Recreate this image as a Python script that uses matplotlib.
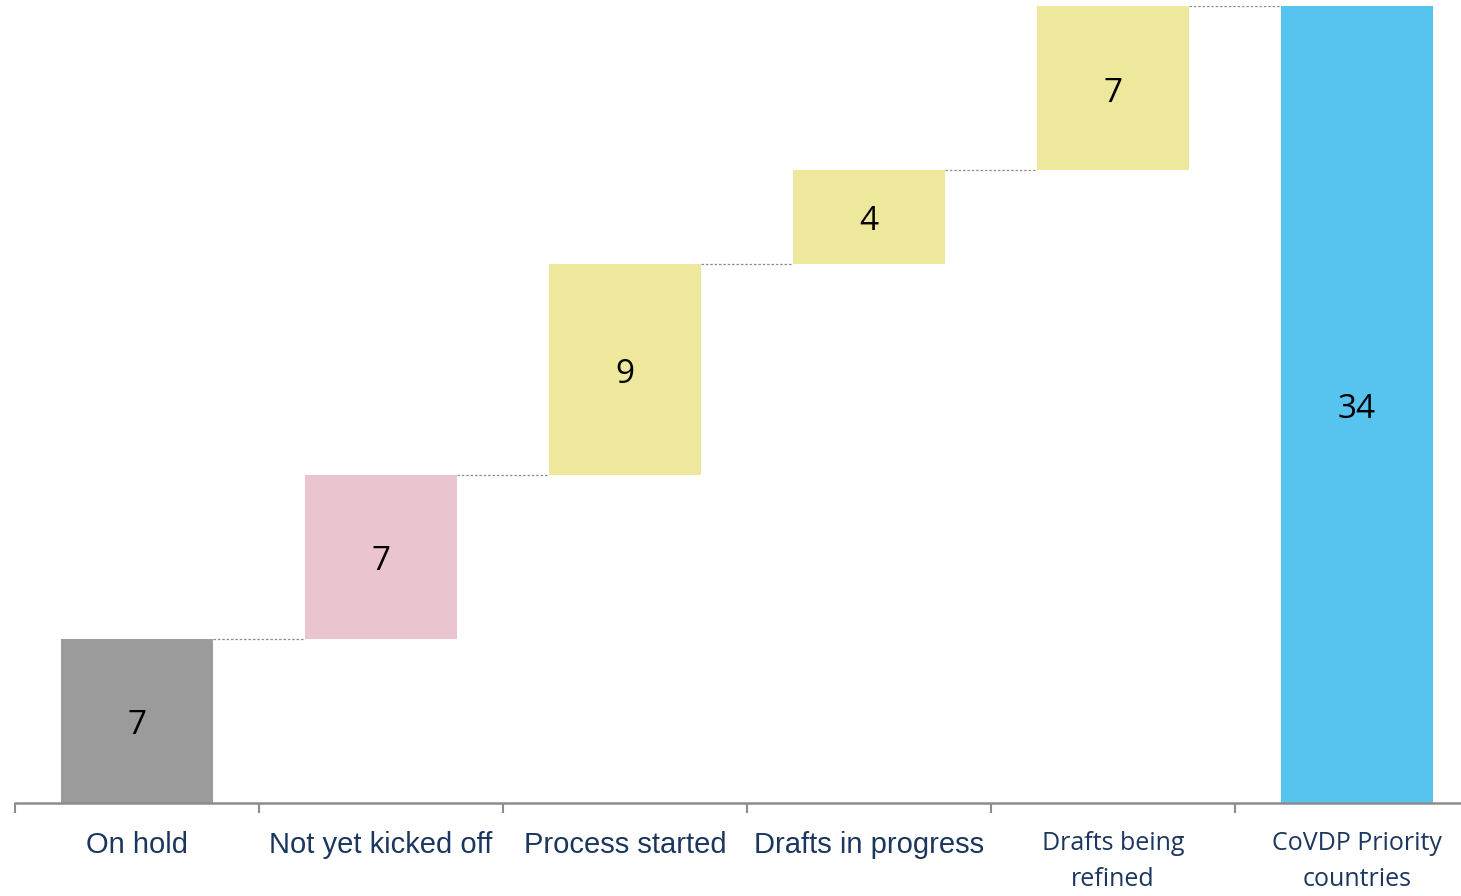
import matplotlib
matplotlib.use("Agg")
import matplotlib.pyplot as plt
import matplotlib.transforms as mtransforms
import numpy as np

categories = ["On hold", "Not yet kicked off", "Process started", "Drafts in progress",
              "Drafts being\nrefined", "CoVDP Priority\ncountries"]
values = [7, 7, 9, 4, 7, 34]
is_total = [False, False, False, False, False, True]
colors = ["#9B9B9B", "#EAC5D0", "#EDE89C", "#EDE89C", "#EDE89C", "#56C4EF"]

W, H = 1461, 896
fig = plt.figure(figsize=(W / 100, H / 100), dpi=100)
ax = fig.add_axes([15 / W, 93 / H, 1464 / W, 797 / H])

x = np.arange(len(categories))
bottoms = []
cum = 0
for v, t in zip(values, is_total):
    if t:
        bottoms.append(0)
    else:
        bottoms.append(cum)
        cum += v
width = 0.627
ax.bar(x, values, bottom=bottoms, width=width, color=colors, zorder=2)

shift = mtransforms.offset_copy(ax.transData, fig=fig, x=0, y=-5, units="dots")
for xi, v, b in zip(x, values, bottoms):
    ax.text(xi, b + v / 2, str(v), ha="center", va="center", fontsize=24,
            color="black", family=["Open Sans", "DejaVu Sans"], transform=shift)

# connectors
for i in range(len(values) - 1):
    top = bottoms[i] + values[i]
    ax.plot([x[i] + width / 2, x[i + 1] - width / 2], [top, top], ls=(0, (2, 1.5)),
            color="#8C8C8C", lw=0.9, zorder=1)

ax.set_xlim(-0.5, len(categories) - 0.5)
ax.set_ylim(0, 34)
for s in ["top", "right", "left"]:
    ax.spines[s].set_visible(False)
ax.spines["bottom"].set_color("#8C8C8C")
ax.spines["bottom"].set_linewidth(1.8)
ax.set_yticks([])
ax.set_xticks(x)
ax.set_xticklabels(categories)
ax.tick_params(axis="x", which="major", length=0, pad=20)
ax.set_xticks(np.arange(len(categories) + 1) - 0.5, minor=True)
ax.tick_params(axis="x", which="minor", length=7, width=1.5, color="#8C8C8C", direction="out")

for i, lab in enumerate(ax.get_xticklabels()):
    lab.set_color("#1B365F")
    lab.set_linespacing(1.6)
    if i < 4:
        lab.set_fontfamily(["Liberation Sans", "DejaVu Sans"])
        lab.set_fontsize(21)
    else:
        lab.set_fontfamily(["Open Sans", "DejaVu Sans"])
        lab.set_fontsize(18)

fig.savefig("out.png", dpi=100)
